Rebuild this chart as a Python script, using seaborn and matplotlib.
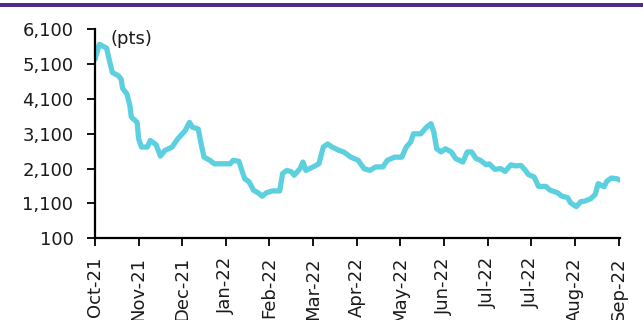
import matplotlib
matplotlib.use("Agg")
import matplotlib.pyplot as plt
import matplotlib.dates as mdates
from matplotlib.patches import Rectangle
from matplotlib.ticker import FuncFormatter
import pandas as pd
import seaborn as sns

# Index level (pts), Oct-2021 to Sep-2022
dates = [
    "2021-10-04", "2021-10-07", "2021-10-12", "2021-10-14", "2021-10-16", "2021-10-20",
    "2021-10-22", "2021-10-23", "2021-10-26", "2021-10-28", "2021-10-29", "2021-11-02",
    "2021-11-03", "2021-11-05", "2021-11-09", "2021-11-11", "2021-11-15", "2021-11-18",
    "2021-11-21", "2021-11-26", "2021-11-30", "2021-12-05", "2021-12-08", "2021-12-10",
    "2021-12-14", "2021-12-16", "2021-12-18", "2021-12-22", "2021-12-25", "2021-12-31",
    "2022-01-05", "2022-01-07", "2022-01-11", "2022-01-13", "2022-01-15", "2022-01-18",
    "2022-01-21", "2022-01-24", "2022-01-27", "2022-01-30", "2022-02-03", "2022-02-08",
    "2022-02-10", "2022-02-13", "2022-02-16", "2022-02-18", "2022-02-22", "2022-02-24",
    "2022-02-26", "2022-03-03", "2022-03-07", "2022-03-10", "2022-03-13", "2022-03-16",
    "2022-03-21", "2022-03-24", "2022-03-29", "2022-04-03", "2022-04-07", "2022-04-11",
    "2022-04-15", "2022-04-20", "2022-04-23", "2022-04-28", "2022-05-03", "2022-05-06",
    "2022-05-09", "2022-05-11", "2022-05-16", "2022-05-20", "2022-05-23", "2022-05-25",
    "2022-05-27", "2022-05-30", "2022-06-02", "2022-06-06", "2022-06-09", "2022-06-14",
    "2022-06-17", "2022-06-20", "2022-06-23", "2022-06-26", "2022-06-30", "2022-07-02",
    "2022-07-06", "2022-07-10", "2022-07-13", "2022-07-17", "2022-07-20", "2022-07-24",
    "2022-07-27", "2022-07-29", "2022-08-02", "2022-08-05", "2022-08-10", "2022-08-13",
    "2022-08-18", "2022-08-21", "2022-08-25", "2022-08-27", "2022-08-31", "2022-09-03",
    "2022-09-06", "2022-09-10", "2022-09-13", "2022-09-15", "2022-09-19", "2022-09-21",
    "2022-09-24", "2022-09-28", "2022-09-30",
]
values = [
    5240, 5670, 5560, 5190, 4860, 4770,
    4670, 4410, 4240, 3910, 3580, 3430,
    2960, 2720, 2720, 2910, 2790, 2460,
    2620, 2720, 2960, 3190, 3430, 3290,
    3240, 2810, 2430, 2340, 2240, 2240,
    2240, 2340, 2310, 2050, 1810, 1720,
    1480, 1410, 1310, 1410, 1460, 1460,
    1960, 2050, 2010, 1910, 2100, 2290,
    2050, 2150, 2240, 2720, 2810, 2720,
    2620, 2580, 2430, 2340, 2100, 2050,
    2150, 2150, 2340, 2430, 2430, 2720,
    2860, 3100, 3100, 3290, 3390, 3150,
    2670, 2580, 2670, 2580, 2390, 2290,
    2580, 2580, 2390, 2340, 2210, 2240,
    2080, 2100, 2020, 2210, 2180, 2190,
    2050, 1930, 1860, 1590, 1590, 1480,
    1410, 1310, 1270, 1120, 1010, 1150,
    1170, 1240, 1360, 1670, 1580, 1740,
    1830, 1810, 1770,
]

# Tick positions on the date axis (30-day steps) and value axis
x_ticks = [
    "2021-10-04", "2021-11-03", "2021-12-03", "2022-01-02", "2022-02-01",
    "2022-03-03", "2022-04-02", "2022-05-02", "2022-06-01", "2022-07-01",
    "2022-07-31", "2022-08-30", "2022-09-29",
]
y_ticks = [100, 1100, 2100, 3100, 4100, 5100, 6100]

LINE_COLOR = "#5DD0E0"
BAR_COLOR = "#50298B"

df = pd.DataFrame({"date": pd.to_datetime(dates), "pts": values})

sns.set_theme(style="white")
plt.rcParams["font.family"] = ["DejaVu Sans"]

fig = plt.figure(figsize=(6.43, 3.2), dpi=100)
ax = fig.add_axes([0.1477, 0.2553, 0.8165, 0.653])

sns.lineplot(data=df, x="date", y="pts", ax=ax, color=LINE_COLOR,
             linewidth=3.8, solid_capstyle="round", solid_joinstyle="round")

ax.set_xlim(pd.Timestamp("2021-10-04"), pd.Timestamp("2022-09-30"))
ax.set_ylim(y_ticks[0], y_ticks[-1])
ax.set_xticks(pd.to_datetime(x_ticks))
ax.xaxis.set_major_formatter(mdates.DateFormatter("%b-%y"))
ax.set_yticks(y_ticks)
ax.yaxis.set_major_formatter(FuncFormatter(lambda v, p: f"{int(v):,}"))

ax.set_xlabel("")
ax.set_ylabel("")
for side in ("top", "right"):
    ax.spines[side].set_visible(False)
for side in ("left", "bottom"):
    ax.spines[side].set_color("black")
    ax.spines[side].set_linewidth(1.6)

ax.tick_params(axis="x", which="major", direction="out", length=5.5, width=1.3,
               color="black", labelsize=13, labelcolor="#1a1a1a", pad=8,
               labelrotation=90, bottom=True)
ax.tick_params(axis="y", which="major", direction="out", length=5.5, width=1.3,
               color="black", labelsize=13, labelcolor="#1a1a1a", pad=10, left=True)
for lbl in ax.get_xticklabels():
    lbl.set_ha("center")
    lbl.set_va("top")

ax.text(0.03, 0.955, "(pts)", transform=ax.transAxes, fontsize=13,
        color="#1a1a1a", ha="left", va="center")

# Header rule across the top
fig.add_artist(Rectangle((0.0, 1 - 6.8 / 320), 1.0, 4.2 / 320,
                         transform=fig.transFigure, color=BAR_COLOR, lw=0))

fig.savefig("out.png", dpi=100)
